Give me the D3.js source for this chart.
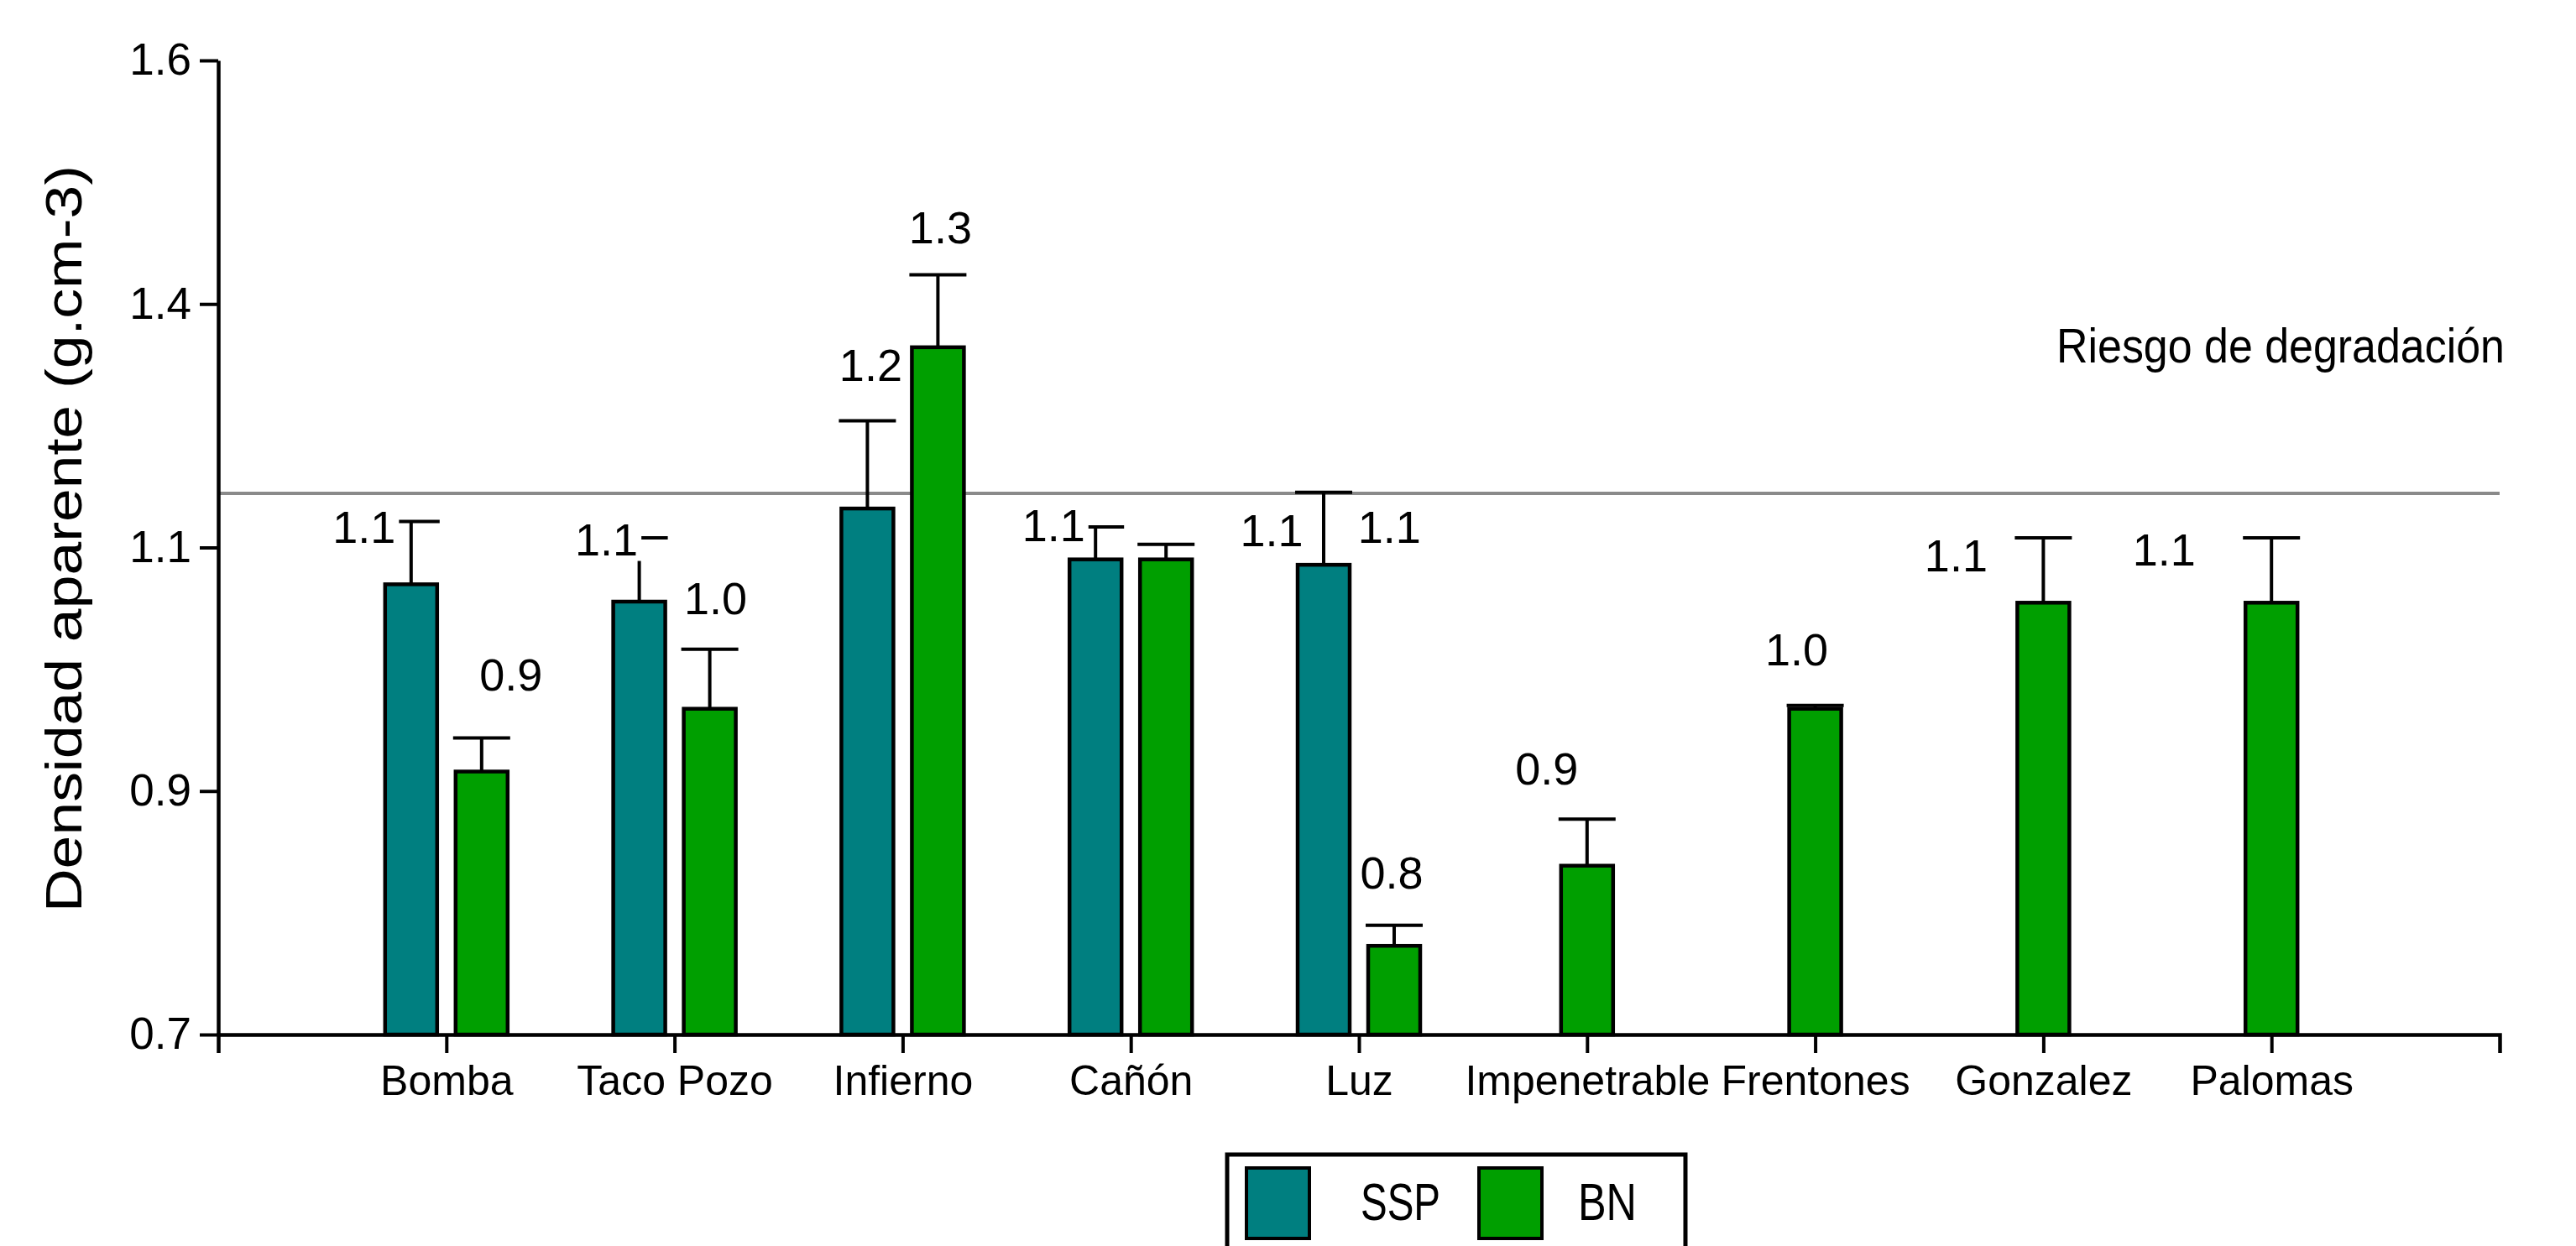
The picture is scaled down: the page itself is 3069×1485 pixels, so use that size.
<!DOCTYPE html>
<html>
<head>
<meta charset="utf-8">
<script src="https://cdn.jsdelivr.net/npm/d3@7"></script>
<style>
  body { margin: 0; background: #fff; }
  text { font-family: "Liberation Sans", Arial, sans-serif; fill: #000; }
</style>
</head>
<body>
<div id="chart"></div>
<script>
const categories = ["Bomba", "Taco Pozo", "Infierno", "Cañón", "Luz", "Impenetrable", "Frentones", "Gonzalez", "Palomas"];
const series = ["SSP", "BN"];
const sspMean = [1.116, 1.100, 1.186, 1.139, 1.134, null, null, null, null];
const sspErr = [0.058, 0.059, 0.081, 0.030, 0.067, null, null, null, null];
const bnMean = [0.943, 1.001, 1.335, 1.139, 0.782, 0.856, 1.001, 1.099, 1.099];
const bnErr = [0.031, 0.055, 0.067, 0.014, 0.019, 0.043, 0.003, 0.060, 0.060];
const riskLevel = 1.2;
const yTicks = [0.7, 0.925, 1.15, 1.375, 1.6];
const yTickLabels = ["0.7", "0.9", "1.1", "1.4", "1.6"];

// value labels: the bar they belong to
const labelCat = ["Bomba", "Bomba", "Taco Pozo", "Taco Pozo", "Infierno", "Infierno", "Cañón", "Luz", "Cañón", "Luz", "Impenetrable", "Frentones", "Gonzalez", "Palomas"];
const labelSeries = ["SSP", "BN", "SSP", "BN", "SSP", "BN", "SSP", "SSP", "BN", "BN", "BN", "BN", "BN", "BN"];
// placement of those labels (px from the tick, baseline in axis units)
const labelDx = [-98, 77, -81, 49, -38, 45, -92, -104, 308, 39, -48, -22, -104, -128];
const labelAt = [1.154, 1.018, 1.143, 1.088, 1.304, 1.431, 1.156, 1.151, 1.154, 0.835, 0.931, 1.041, 1.128, 1.133];

const width = 3069, height = 1485;
const left = 260, right = 2978, yBase = 1233, yTop = 72;

const svg = d3.select("#chart").append("svg")
    .attr("width", width)
    .attr("height", height);

const x = d3.scalePoint().domain(categories).range([left, right]).padding(1);
const xSub = d3.scaleBand().domain(series).range([-73, 73]).paddingInner(0.262);
const y = d3.scaleLinear().domain([0.7, 1.6]).range([yBase, yTop]);
const color = d3.scaleOrdinal().domain(series).range(["#007f80", "#009f00"]);
const fmt = d3.format(".1f");

const rows = categories.flatMap((c, i) => [
    { cat: c, key: "SSP", mean: sspMean[i], err: sspErr[i], paired: sspMean[i] != null },
    { cat: c, key: "BN", mean: bnMean[i], err: bnErr[i], paired: sspMean[i] != null }
]).filter(d => d.mean != null);

// a lone BN bar sits right on its tick
rows.forEach(d => {
    d.cx = x(d.cat) + (d.paired ? xSub(d.key) + xSub.bandwidth() / 2 : 0);
});
const barW = xSub.bandwidth();

// threshold line
svg.append("line")
    .attr("x1", left).attr("x2", right)
    .attr("y1", y(riskLevel)).attr("y2", y(riskLevel))
    .attr("stroke", "#8a8a8a")
    .attr("stroke-width", 4);

svg.append("text")
    .attr("x", 2450)
    .attr("y", y(riskLevel) - 156)
    .attr("font-size", 57)
    .attr("textLength", 534)
    .attr("lengthAdjust", "spacingAndGlyphs")
    .text("Riesgo de degradación");

// bars
svg.append("g").selectAll("rect")
    .data(rows)
    .enter().append("rect")
    .attr("x", d => d.cx - barW / 2)
    .attr("y", d => y(d.mean))
    .attr("width", barW)
    .attr("height", d => yBase - y(d.mean))
    .attr("fill", d => color(d.key))
    .attr("stroke", "#000")
    .attr("stroke-width", 4.5);

// upper error bars
svg.append("g").selectAll("path")
    .data(rows)
    .enter().append("path")
    .attr("d", d => {
        const top = y(d.mean + d.err);
        return `M${d.cx},${y(d.mean)}V${top}M${d.cx - 34},${top}H${d.cx + 34}`;
    })
    .attr("fill", "none")
    .attr("stroke", "#000")
    .attr("stroke-width", 4);

// value labels on white boxes
labelCat.forEach((c, i) => {
    const row = rows.find(r => r.cat === c && r.key === labelSeries[i]);
    const g = svg.append("g");
    const t = g.append("text")
        .attr("x", x(c) + labelDx[i])
        .attr("y", y(labelAt[i]))
        .attr("text-anchor", "middle")
        .attr("font-size", 54)
        .text(fmt(row.mean));
    const bb = t.node().getBBox();
    g.insert("rect", "text")
        .attr("x", bb.x - 4)
        .attr("y", bb.y + 6)
        .attr("width", bb.width + 8)
        .attr("height", bb.height - 10)
        .attr("fill", "#fff");
});

// axes
const xAxis = svg.append("g")
    .attr("transform", `translate(0,${yBase})`)
    .call(d3.axisBottom(x).tickSize(22).tickSizeOuter(22).tickPadding(14));

const yAxis = svg.append("g")
    .attr("transform", `translate(${left},0)`)
    .call(d3.axisLeft(y)
        .tickValues(yTicks)
        .tickFormat((d, i) => yTickLabels[i])
        .tickSize(22)
        .tickSizeOuter(0)
        .tickPadding(10));

[xAxis, yAxis].forEach(a => {
    a.select(".domain").attr("stroke", "#000").attr("stroke-width", 4.5);
    a.selectAll(".tick line").attr("stroke", "#000").attr("stroke-width", 4);
    a.selectAll(".tick text")
        .attr("font-family", "Liberation Sans, Arial, sans-serif")
        .attr("font-size", 53)
        .attr("fill", "#000");
});
xAxis.selectAll(".tick text").attr("font-size", 50);

svg.append("text")
    .attr("transform", `translate(97,642) rotate(-90)`)
    .attr("text-anchor", "middle")
    .attr("font-size", 62)
    .attr("textLength", 890)
    .attr("lengthAdjust", "spacingAndGlyphs")
    .text("Densidad aparente (g.cm-3)");

// legend, cut by the bottom edge like the original
const legend = svg.append("g");
legend.append("rect")
    .attr("x", 1462).attr("y", 1376)
    .attr("width", 546).attr("height", 140)
    .attr("fill", "#fff")
    .attr("stroke", "#000")
    .attr("stroke-width", 5);

const item = legend.selectAll(".item")
    .data(series)
    .enter().append("g")
    .attr("class", "item")
    .attr("transform", (d, i) => `translate(${1485 + i * 277},1392)`);

item.append("rect")
    .attr("width", 75)
    .attr("height", 84)
    .attr("fill", d => color(d))
    .attr("stroke", "#000")
    .attr("stroke-width", 4);

item.append("text")
    .attr("x", (d, i) => i ? 118 : 136)
    .attr("y", 62)
    .attr("font-size", 63)
    .attr("textLength", (d, i) => i ? 70 : 95)
    .attr("lengthAdjust", "spacingAndGlyphs")
    .text(d => d);
</script>
</body>
</html>
